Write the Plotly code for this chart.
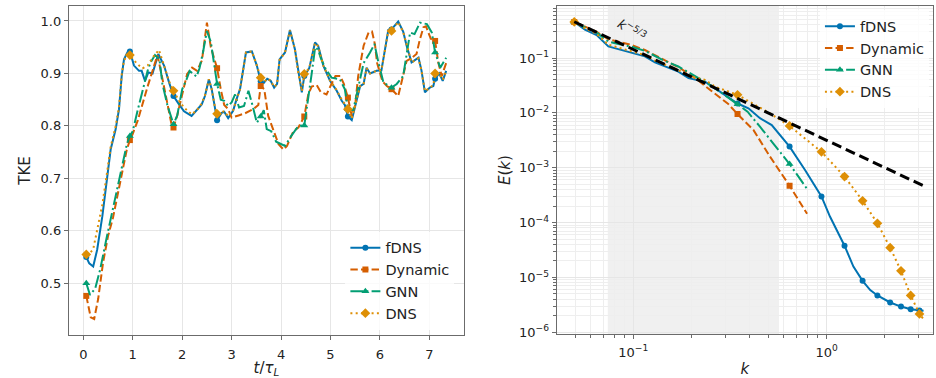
import plotly.graph_objects as go

# ---------------- data: left panel (TKE vs t/tau_L) ----------------
t_fdns = [0.06, 0.12, 0.2, 0.28, 0.385, 0.486, 0.553, 0.655, 0.722, 0.776, 0.823, 0.89, 0.942, 1.025, 1.127,
          1.18, 1.248, 1.316, 1.4, 1.517, 1.633, 1.734, 1.824, 1.936, 2.037, 2.19, 2.3, 2.395, 2.46, 2.54,
          2.597, 2.664, 2.706, 2.8, 2.85, 2.93, 3.03, 3.1, 3.17, 3.29, 3.41, 3.51, 3.588, 3.65, 3.72, 3.79,
          3.86, 3.92, 3.97, 4.08, 4.18, 4.28, 4.35, 4.42, 4.47, 4.57, 4.687, 4.75, 4.855, 4.99, 5.126, 5.227,
          5.29, 5.33, 5.352, 5.43, 5.5, 5.6, 5.67, 5.73, 5.8, 5.93, 6.03, 6.17, 6.234, 6.37, 6.47, 6.54, 6.64,
          6.78, 6.84, 6.91, 7.01, 7.08, 7.116, 7.2, 7.27, 7.34]
tke_fdns = [0.550, 0.538, 0.532, 0.564, 0.628, 0.704, 0.755, 0.794, 0.832, 0.895, 0.927, 0.940, 0.942, 0.915,
            0.905, 0.905, 0.886, 0.902, 0.900, 0.937, 0.915, 0.883, 0.857, 0.841, 0.828, 0.819, 0.830, 0.841,
            0.857, 0.889, 0.870, 0.832, 0.811, 0.825, 0.827, 0.815, 0.829, 0.851, 0.870, 0.940, 0.942, 0.915,
            0.885, 0.882, 0.890, 0.886, 0.873, 0.880, 0.927, 0.940, 0.983, 0.946, 0.900, 0.864, 0.895, 0.910,
            0.959, 0.953, 0.915, 0.886, 0.867, 0.848, 0.840, 0.822, 0.818, 0.811, 0.840, 0.876, 0.880, 0.911,
            0.900, 0.905, 0.906, 0.983, 0.984, 0.999, 0.980, 0.953, 0.921, 0.930, 0.906, 0.864, 0.873, 0.876,
            0.890, 0.900, 0.886, 0.905]

t_dns = [0.06, 0.12, 0.2, 0.28, 0.385, 0.486, 0.553, 0.655, 0.722, 0.776, 0.823, 0.89, 0.942, 1.025, 1.127,
         1.2, 1.3, 1.4, 1.53, 1.633, 1.734, 1.824, 1.936, 2.037, 2.19, 2.3, 2.395, 2.46, 2.54, 2.597, 2.664,
         2.706, 2.8, 2.85, 2.93, 3.03, 3.1, 3.17, 3.29, 3.41, 3.51, 3.588, 3.65, 3.72, 3.79, 3.86, 3.92, 3.97,
         4.08, 4.18, 4.28, 4.35, 4.42, 4.47, 4.57, 4.687, 4.75, 4.855, 4.99, 5.126, 5.227, 5.29, 5.33, 5.352,
         5.43, 5.5, 5.6, 5.67, 5.73, 5.8, 5.93, 6.03, 6.17, 6.234, 6.37, 6.47, 6.54, 6.64, 6.78, 6.84, 6.91,
         7.01, 7.08, 7.116, 7.2, 7.27, 7.34]
tke_dns = [0.555, 0.556, 0.565, 0.600, 0.650, 0.715, 0.760, 0.800, 0.836, 0.897, 0.925, 0.935, 0.935, 0.925,
           0.915, 0.910, 0.915, 0.930, 0.945, 0.915, 0.885, 0.867, 0.848, 0.835, 0.822, 0.830, 0.843, 0.858,
           0.889, 0.870, 0.835, 0.823, 0.826, 0.828, 0.818, 0.830, 0.851, 0.870, 0.940, 0.942, 0.915, 0.892,
           0.883, 0.890, 0.886, 0.874, 0.880, 0.926, 0.940, 0.982, 0.946, 0.900, 0.866, 0.899, 0.910, 0.958,
           0.952, 0.915, 0.887, 0.868, 0.850, 0.842, 0.830, 0.832, 0.814, 0.842, 0.876, 0.880, 0.910, 0.900,
           0.905, 0.906, 0.981, 0.981, 0.998, 0.979, 0.953, 0.921, 0.929, 0.906, 0.866, 0.874, 0.878, 0.900,
           0.900, 0.888, 0.905]

t_dyn = [0.06, 0.1, 0.15, 0.22, 0.3, 0.4, 0.5, 0.6, 0.7, 0.8, 0.88, 0.942, 1.0, 1.1, 1.2, 1.3, 1.4, 1.5, 1.6,
         1.7, 1.78, 1.824, 1.9, 2.0, 2.1, 2.2, 2.3, 2.4, 2.46, 2.5, 2.58, 2.64, 2.706, 2.78, 2.85, 2.93, 3.0,
         3.14, 3.27, 3.44, 3.54, 3.588, 3.66, 3.74, 3.85, 3.95, 4.05, 4.12, 4.25, 4.35, 4.47, 4.55, 4.62, 4.72,
         4.8, 4.92, 5.02, 5.1, 5.2, 5.27, 5.352, 5.43, 5.5, 5.56, 5.67, 5.77, 5.84, 5.9, 5.94, 6.05, 6.14,
         6.234, 6.37, 6.45, 6.54, 6.65, 6.74, 6.8, 6.88, 6.93, 7.03, 7.116, 7.18, 7.25, 7.34]
tke_dyn = [0.476, 0.455, 0.435, 0.432, 0.470, 0.540, 0.590, 0.625, 0.670, 0.720, 0.755, 0.773, 0.785, 0.810,
           0.845, 0.875, 0.905, 0.935, 0.890, 0.840, 0.805, 0.797, 0.820, 0.860, 0.899, 0.911, 0.905, 0.925,
           0.970, 0.997, 0.950, 0.930, 0.910, 0.870, 0.840, 0.832, 0.816, 0.820, 0.824, 0.832, 0.840, 0.876,
           0.870, 0.819, 0.790, 0.765, 0.755, 0.762, 0.790, 0.797, 0.818, 0.860, 0.875, 0.878, 0.865, 0.860,
           0.880, 0.895, 0.895, 0.880, 0.854, 0.819, 0.840, 0.895, 0.953, 0.978, 0.980, 0.955, 0.921, 0.885,
           0.876, 0.870, 0.857, 0.890, 0.924, 0.930, 0.937, 0.962, 0.988, 0.990, 0.966, 0.962, 0.921, 0.895,
           0.920]

t_gnn = [0.06, 0.135, 0.24, 0.34, 0.47, 0.55, 0.675, 0.78, 0.88, 0.942, 1.0, 1.1, 1.2, 1.3, 1.36, 1.45, 1.54,
         1.6, 1.7, 1.824, 1.9, 2.0, 2.09, 2.15, 2.29, 2.35, 2.42, 2.5, 2.58, 2.706, 2.78, 2.85, 2.93, 3.0,
         3.07, 3.15, 3.25, 3.34, 3.42, 3.51, 3.588, 3.65, 3.71, 3.8, 3.9, 4.0, 4.08, 4.2, 4.35, 4.47, 4.55,
         4.62, 4.69, 4.75, 4.8, 4.89, 5.02, 5.19, 5.29, 5.352, 5.46, 5.56, 5.67, 5.8, 5.89, 5.97, 6.07,
         6.234, 6.34, 6.47, 6.54, 6.61, 6.7, 6.81, 6.95, 7.05, 7.116, 7.22, 7.34]
tke_gnn = [0.500, 0.478, 0.490, 0.526, 0.586, 0.620, 0.679, 0.720, 0.765, 0.781, 0.790, 0.830, 0.870, 0.905,
           0.921, 0.935, 0.927, 0.880, 0.840, 0.803, 0.820, 0.870, 0.889, 0.905, 0.894, 0.910, 0.940, 0.981,
           0.960, 0.880, 0.850, 0.848, 0.838, 0.845, 0.860, 0.835, 0.838, 0.867, 0.840, 0.806, 0.818, 0.830,
           0.794, 0.790, 0.770, 0.765, 0.762, 0.780, 0.800, 0.801, 0.850, 0.900, 0.950, 0.945, 0.930, 0.911,
           0.892, 0.889, 0.870, 0.832, 0.830, 0.876, 0.920, 0.940, 0.956, 0.921, 0.883, 0.873, 0.880, 0.895,
           0.940, 0.978, 0.975, 0.997, 0.994, 0.978, 0.940, 0.911, 0.930]

marker_t = [0.06, 0.942, 1.824, 2.706, 3.588, 4.47, 5.352, 6.234, 7.116]

# ---------------- data: right panel (energy spectrum) ----------------
k_fdns = [0.0495, 0.0562, 0.0646, 0.0743, 0.0836, 0.0982, 0.1148, 0.1294, 0.146, 0.171, 0.193, 0.213, 0.235,
          0.265, 0.31, 0.346, 0.394, 0.452, 0.52, 0.643, 0.773, 0.94, 1.04, 1.197, 1.237, 1.375, 1.534, 1.68,
          1.83, 2.13, 2.423, 2.72, 3.02, 3.17]
E_fdns = [0.455, 0.33, 0.262, 0.163, 0.145, 0.126, 0.107, 0.083, 0.0695, 0.0565, 0.043, 0.040, 0.037, 0.028,
          0.0192, 0.0148, 0.0121, 0.0080, 0.0060, 2.43e-3, 9.1e-4, 3.0e-4, 1.29e-4, 4.8e-5, 3.8e-5, 1.58e-5,
          8.7e-6, 5.9e-6, 4.7e-6, 3.5e-6, 2.95e-6, 2.64e-6, 2.5e-6, 2.47e-6]

k_dns = [0.0495, 0.0562, 0.0646, 0.0743, 0.0836, 0.0982, 0.1148, 0.1294, 0.146, 0.171, 0.193, 0.213, 0.235,
         0.265, 0.31, 0.346, 0.509, 0.643, 0.94, 1.237, 1.534, 1.83, 2.13, 2.423, 2.72, 3.02, 3.17]
E_dns = [0.455, 0.35, 0.275, 0.175, 0.155, 0.133, 0.113, 0.090, 0.075, 0.060, 0.047, 0.043, 0.040, 0.030,
         0.025, 0.0213, 9.8e-3, 5.77e-3, 1.95e-3, 6.9e-4, 2.5e-4, 9.7e-5, 3.5e-5, 1.32e-5, 4.7e-6, 2.17e-6,
         1.74e-6]

k_dyn = [0.0495, 0.0562, 0.0646, 0.0743, 0.0836, 0.0982, 0.1148, 0.1294, 0.146, 0.171, 0.193, 0.213, 0.235,
         0.265, 0.31, 0.346, 0.418, 0.509, 0.643, 0.792]
E_dyn = [0.455, 0.37, 0.30, 0.22, 0.20, 0.172, 0.14, 0.112, 0.090, 0.068, 0.052, 0.041, 0.031, 0.022, 0.0145,
         0.0095, 4.9e-3, 1.6e-3, 4.7e-4, 1.45e-4]

k_gnn = [0.0495, 0.0562, 0.0646, 0.0743, 0.0836, 0.0982, 0.1148, 0.1294, 0.146, 0.171, 0.193, 0.213, 0.235,
         0.265, 0.31, 0.346, 0.39, 0.452, 0.53, 0.643, 0.792]
E_gnn = [0.455, 0.36, 0.29, 0.20, 0.18, 0.16, 0.135, 0.11, 0.088, 0.070, 0.054, 0.045, 0.037, 0.028, 0.019,
         0.0143, 0.0105, 5.6e-3, 2.8e-3, 1.17e-3, 4.1e-4]

marker_k = [0.0495, 0.346, 0.643, 0.94, 1.237, 1.534, 1.83, 2.13, 2.423, 2.72, 3.02]

k_ref = [0.0495, 3.16]
E_ref = [0.458, 4.7e-4]

shade_k = [0.0738, 0.567]

names = ["fDNS", "Dynamic", "GNN", "DNS"]
colors = ["#0173b2", "#d55e00", "#029e73", "#de8f05"]
symbols = ["circle", "square", "triangle-up", "diamond"]
msizes = [6, 6, 7, 7.5]
dashes = ["solid", "7.4px,3.2px", "12.8px,3.2px,2px,3.2px", "2px,3.3px"]

FONT = "DejaVu Sans"
fig = go.Figure()


def pick(xs, ys, targets):
    mx, my = [], []
    for x, y in zip(xs, ys):
        if any(abs(x - t) < 1e-9 for t in targets):
            mx.append(x)
            my.append(y)
    return mx, my


left = [(t_fdns, tke_fdns), (t_dyn, tke_dyn), (t_gnn, tke_gnn), (t_dns, tke_dns)]
right = [(k_fdns, E_fdns), (k_dyn, E_dyn), (k_gnn, E_gnn), (k_dns, E_dns)]

for panel, (series, targets, xa, ya, leg) in enumerate([
        (left, marker_t, "x", "y", "legend"),
        (right, marker_k, "x2", "y2", "legend2")]):
    for i, (xs, ys) in enumerate(series):
        fig.add_trace(go.Scatter(x=xs, y=ys, mode="lines", xaxis=xa, yaxis=ya,
                                 line=dict(color=colors[i], width=2, dash=dashes[i]),
                                 showlegend=False, hoverinfo="skip"))
        mx, my = pick(xs, ys, targets)
        fig.add_trace(go.Scatter(x=mx, y=my, mode="markers", xaxis=xa, yaxis=ya,
                                 marker=dict(color=colors[i], symbol=symbols[i], size=msizes[i], line=dict(width=0)),
                                 showlegend=False, hoverinfo="skip"))
        fig.add_trace(go.Scatter(x=[None], y=[None], mode="lines+markers", xaxis=xa, yaxis=ya,
                                 name=names[i], legend=leg,
                                 line=dict(color=colors[i], width=2, dash=dashes[i]),
                                 marker=dict(color=colors[i], symbol=symbols[i], size=msizes[i], line=dict(width=0))))
    if panel == 1:
        fig.add_trace(go.Scatter(x=k_ref, y=E_ref, mode="lines", xaxis="x2", yaxis="y2",
                                 line=dict(color="black", width=3, dash="10px,5px"),
                                 showlegend=False, hoverinfo="skip"))

GRID = "#e6e6e6"
FRAME = "#6b6b6b"
TICKFONT = dict(family=FONT, size=13, color="#222")
TITLEFONT = dict(family=FONT, size=15, color="#222")

common = dict(showline=True, mirror=True, linecolor=FRAME, linewidth=1.3, ticks="outside", ticklen=4,
              tickcolor=FRAME, tickwidth=1, gridcolor=GRID, gridwidth=0.8, zeroline=False,
              tickfont=TICKFONT)

minor_dec = [m * 10 ** e for e in range(-7, 2) for m in range(2, 10)]

fig.update_layout(
    width=936, height=378,
    margin=dict(l=0, r=0, t=0, b=0, autoexpand=False),
    paper_bgcolor="white", plot_bgcolor="white",
    font=dict(family=FONT, color="#222"),
    xaxis=dict(domain=[0.0737, 0.4957], range=[-0.29, 7.70], tickmode="linear", tick0=0, dtick=1,
               ticklabelstandoff=3,
               title=dict(text="<i>t</i>/<i>τ</i><sub><i>L</i></sub>", font=TITLEFONT, standoff=9), **common),
    yaxis=dict(domain=[0.1138, 0.984], range=[0.4015, 1.0285], tickmode="linear", tick0=0.5, dtick=0.1,
               tickformat=".1f", title=dict(text="TKE", font=TITLEFONT, standoff=6), **common),
    xaxis2=dict(domain=[0.5948, 0.9968], type="log", range=[-1.396, 0.55], tickmode="array",
                tickvals=[0.1, 1], ticktext=["10<sup>−1</sup>", "10<sup>0</sup>"], ticklabelstandoff=2,
                minor=dict(tickmode="array", tickvals=minor_dec, ticks="outside", ticklen=2.5,
                           tickcolor=FRAME, showgrid=True, gridcolor="#eeeeee", gridwidth=0.6),
                title=dict(text="<i>k</i>", font=TITLEFONT, standoff=8), anchor="y2", **common),
    yaxis2=dict(domain=[0.1164, 0.984], type="log", range=[-6.03, -0.053], tickmode="array",
                tickvals=[1e-6, 1e-5, 1e-4, 1e-3, 1e-2, 1e-1],
                ticktext=["10<sup>−6</sup>", "10<sup>−5</sup>", "10<sup>−4</sup>", "10<sup>−3</sup>",
                          "10<sup>−2</sup>", "10<sup>−1</sup>"],
                minor=dict(tickmode="array", tickvals=minor_dec, ticks="outside", ticklen=2.5,
                           tickcolor=FRAME, showgrid=True, gridcolor="#eeeeee", gridwidth=0.6),
                title=dict(text="<i>E</i>(<i>k</i>)", font=TITLEFONT, standoff=4), anchor="x2", **common),
    legend=dict(x=0.369, y=0.387, xanchor="left", yanchor="top", bgcolor="rgba(255,255,255,0.8)",
                borderwidth=0, font=dict(family=FONT, size=14.5, color="#222"), traceorder="normal"),
    legend2=dict(x=0.876, y=0.973, xanchor="left", yanchor="top", bgcolor="rgba(255,255,255,0.8)",
                 borderwidth=0, font=dict(family=FONT, size=14.5, color="#222"), traceorder="normal"),
    showlegend=True,
)

fig.add_shape(type="rect", xref="x2", yref="y2 domain", x0=shade_k[0], x1=shade_k[1], y0=0, y1=1,
              fillcolor="rgba(0,0,0,0.06)", line=dict(width=0), layer="below")

fig.add_annotation(xref="x2", yref="y2", x=-1.005, y=-0.49, text="<i>k</i><sup>−5/3</sup>",
                   showarrow=False, textangle=33, font=dict(family=FONT, size=13, color="#222"))

fig.write_html("out.html", config={"displayModeBar": False},
               post_script="document.body.style.margin='0';document.body.style.overflow='hidden';")
